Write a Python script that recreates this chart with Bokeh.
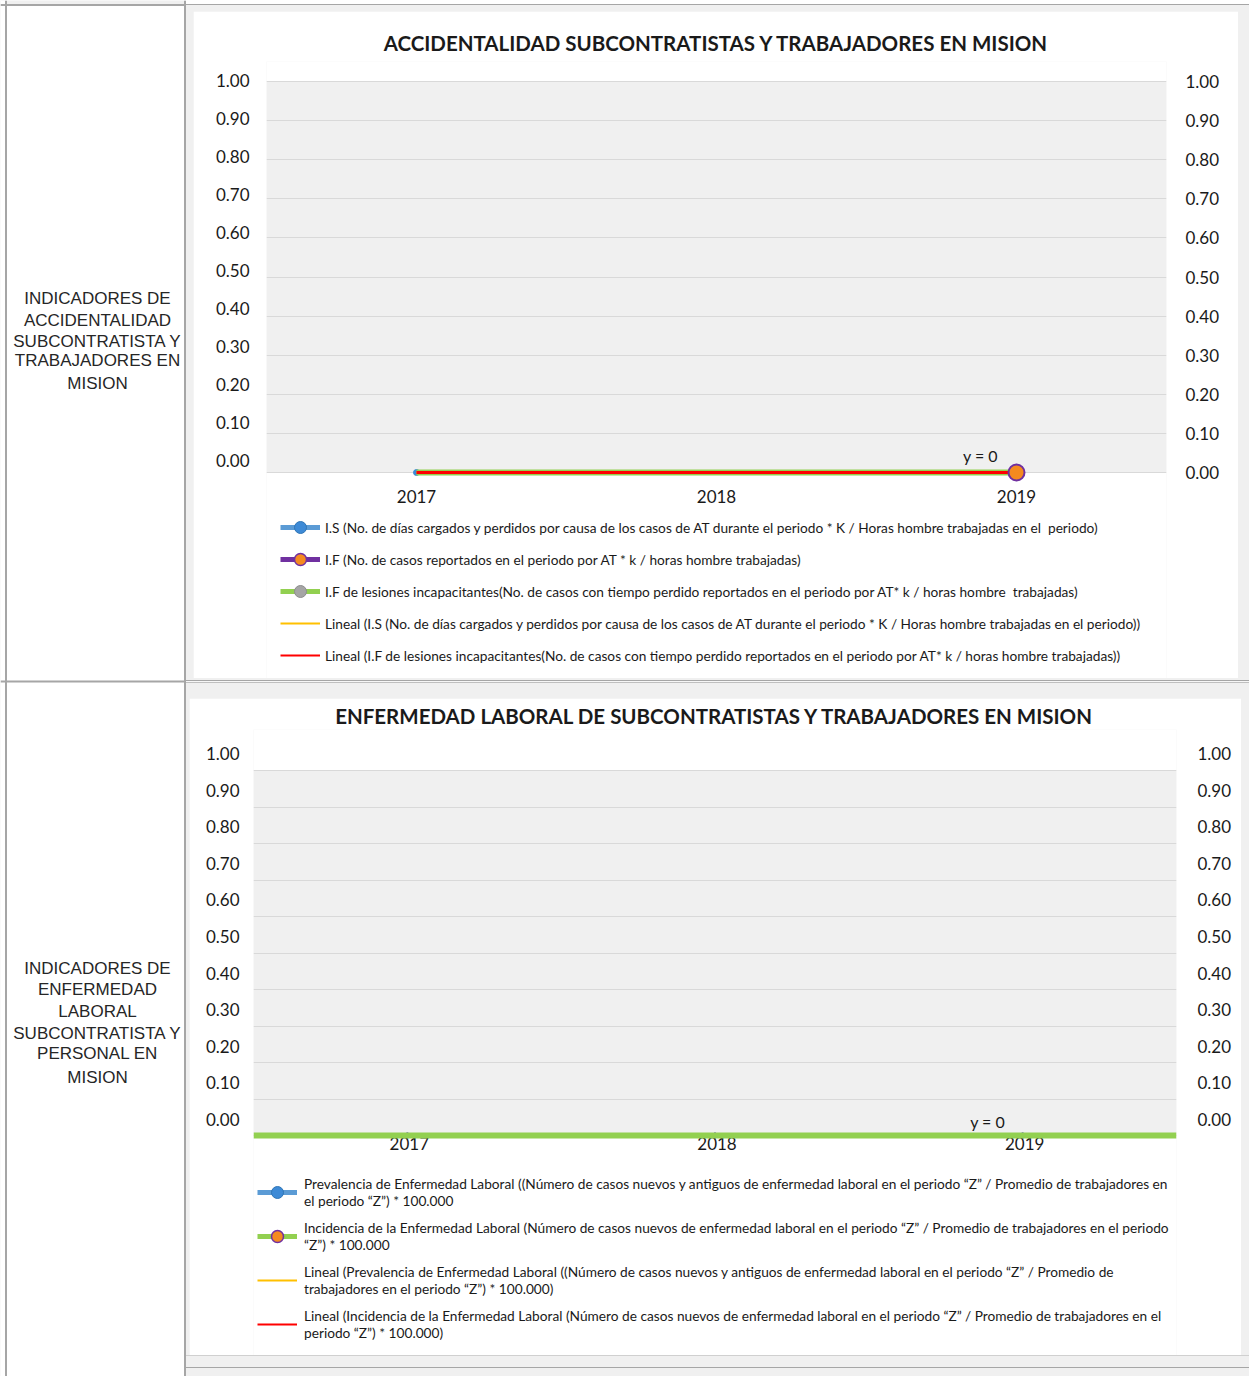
import numpy as np
from bokeh.plotting import figure
from bokeh.models import (Range1d, LinearAxis, FixedTicker, NumeralTickFormatter, Legend,
                          LegendItem, BoxAnnotation, Span, Label, ColumnDataSource, Spacer, Grid)
from bokeh.layouts import row, column
from bokeh.embed import file_html
from bokeh.resources import INLINE
from bokeh.core.properties import value

# ---------------- data ----------------
years = ["2017", "2018", "2019"]
tick_values = [0.0, 0.1, 0.2, 0.3, 0.4, 0.5, 0.6, 0.7, 0.8, 0.9, 1.0]

acc_title = "ACCIDENTALIDAD SUBCONTRATISTAS Y TRABAJADORES EN MISION"
acc_is = [0.0, np.nan, np.nan]        # I.S
acc_if = [np.nan, np.nan, 0.0]        # I.F
acc_if_les = [0.0, 0.0, 0.0]          # I.F lesiones incapacitantes
acc_labels = [
    "I.S (No. de días cargados y perdidos por causa de los casos de AT durante el periodo * K / Horas hombre trabajadas en el  periodo)",
    "I.F (No. de casos reportados en el periodo por AT * k / horas hombre trabajadas)",
    "I.F de lesiones incapacitantes(No. de casos con tiempo perdido reportados en el periodo por AT* k / horas hombre  trabajadas)",
    "Lineal (I.S (No. de días cargados y perdidos por causa de los casos de AT durante el periodo * K / Horas hombre trabajadas en el periodo))",
    "Lineal (I.F de lesiones incapacitantes(No. de casos con tiempo perdido reportados en el periodo por AT* k / horas hombre trabajadas))",
]

enf_title = "ENFERMEDAD LABORAL DE SUBCONTRATISTAS Y TRABAJADORES EN MISION"
enf_prev = [0.0, 0.0, 0.0]   # Prevalencia
enf_inc = [0.0, 0.0, 0.0]    # Incidencia
enf_labels = [
    "Prevalencia de Enfermedad Laboral ((Número de casos nuevos y antiguos de enfermedad laboral en el periodo “Z” / Promedio de trabajadores en\nel periodo “Z”) * 100.000",
    "Incidencia de la Enfermedad Laboral (Número de casos nuevos de enfermedad laboral en el periodo “Z” / Promedio de trabajadores en el periodo\n“Z”) * 100.000",
    "Lineal (Prevalencia de Enfermedad Laboral ((Número de casos nuevos y antiguos de enfermedad laboral en el periodo “Z” / Promedio de\ntrabajadores en el periodo “Z”) * 100.000)",
    "Lineal (Incidencia de la Enfermedad Laboral (Número de casos nuevos de enfermedad laboral en el periodo “Z” / Promedio de trabajadores en el\nperiodo “Z”) * 100.000)",
]

row_label_1 = ["INDICADORES DE", "ACCIDENTALIDAD", "SUBCONTRATISTA Y", "TRABAJADORES EN", "MISION"]
row_label_2 = ["INDICADORES DE", "ENFERMEDAD", "LABORAL", "SUBCONTRATISTA Y", "PERSONAL EN", "MISION"]


def linear_trend(vals):
    v = np.asarray(vals, dtype=float)
    idx = np.arange(len(v))
    ok = np.isfinite(v)
    if ok.sum() >= 2:
        m, b = np.polyfit(idx[ok], v[ok], 1)
    else:
        m, b = 0.0, (float(v[ok].mean()) if ok.any() else 0.0)
    return list(m * idx + b), m, b


def eq_text(m, b):
    if abs(m) < 1e-12 and abs(b) < 1e-12:
        return "y = 0"
    return f"y = {m:.4f}x + {b:.4f}"


# ---------------- styles ----------------
FONT = "Lato"
GRAY_BG = "#f0f0f0"
GRID = "#d9d9d9"
BLUE = "#5b9bd5"
BLUE_M = "#3d8ad6"
PURPLE = "#7030a0"
ORANGE = "#f58a1f"
GREEN = "#92d050"
GRAYM = "#a5a5a5"
YELLOW = "#ffc000"
RED = "#ff0000"
TXT = "#1a1a1a"
LINE = "#a6a6a6"
NO_VALUES = [np.nan] * len(years)   # legend-key renderers draw nothing in the plot


def style_axis(ax, standoff):
    ax.major_tick_out = 0
    ax.major_tick_in = 0
    ax.minor_tick_out = 0
    ax.minor_tick_in = 0
    ax.axis_line_color = None
    ax.major_label_standoff = standoff
    ax.major_label_text_font = FONT
    ax.major_label_text_font_size = "17px"
    ax.major_label_text_color = TXT


def style_title(p, standoff):
    p.title.align = "center"
    p.title.text_font = FONT
    p.title.text_font_size = "20.5px"
    p.title.text_font_style = "bold"
    p.title.text_color = TXT
    p.title.standoff = standoff


def style_legend(leg):
    leg.label_text_font = FONT
    leg.label_text_font_size = "13.7px"
    leg.label_text_color = TXT
    leg.border_line_color = None
    leg.background_fill_alpha = 0
    leg.margin = 0
    leg.padding = 0
    leg.glyph_width = 40


def year_labels(p, y_offset, x_offset=0):
    p.text(x=years, y=[0.0] * len(years), text=years, x_offset=x_offset, y_offset=y_offset,
           text_align="center", text_baseline="middle", text_font=value(FONT),
           text_font_size="17px", text_color=TXT)


def key_line(p, color, width):
    return p.line(x=years, y=NO_VALUES, line_color=color, line_width=width)


def key_marker(p, fill, line, lw=1.0):
    return p.scatter(x=years, y=NO_VALUES, size=12, fill_color=fill, line_color=line, line_width=lw)


# ---------------- chart 1 ----------------
tr_is, m_is, b_is = linear_trend(acc_is)
tr_les, m_les, b_les = linear_trend(acc_if_les)
src1 = ColumnDataSource(dict(year=years, is_=acc_is, if_=acc_if, les=acc_if_les,
                             tr_is=tr_is, tr_les=tr_les))

# frame: page y 61..678 ; gridline 1.00 at y=81, 0.00 at y=472
p1 = figure(x_range=years, y_range=Range1d(-206 / 391, 1 + 20 / 391), width=1045, height=667,
            output_backend="svg", toolbar_location=None, y_axis_location=None, x_axis_location=None,
            min_border_left=73, min_border_right=72, min_border_top=50, min_border_bottom=0,
            background_fill_color="white", border_fill_color="white", outline_line_color=None,
            title=acc_title)
p1.margin = (6, 11, 2, 7)
p1.frame_align = False
style_title(p1, 14)
p1.grid.visible = False
p1.extra_y_ranges = {"ax": Range1d(-218 / 380, 1 + 19 / 380)}

p1.add_layout(BoxAnnotation(bottom=0, top=1, fill_color=GRAY_BG, fill_alpha=1.0,
                            line_color=None, level="image"))
p1.add_layout(Grid(dimension=1, ticker=FixedTicker(ticks=tick_values),
                   grid_line_color=GRID, grid_line_width=1))

axl = LinearAxis(y_range_name="ax", ticker=FixedTicker(ticks=tick_values),
                 formatter=NumeralTickFormatter(format="0.00"))
style_axis(axl, 17)
p1.add_layout(axl, "left")
axr = LinearAxis(ticker=FixedTicker(ticks=tick_values), formatter=NumeralTickFormatter(format="0.00"))
style_axis(axr, 19)
p1.add_layout(axr, "right")
year_labels(p1, 24)

p1.line("year", "is_", source=src1, line_color=BLUE, line_width=4)
p1.scatter("year", "is_", source=src1, size=6, fill_color=BLUE_M, line_color=BLUE_M)
p1.line("year", "if_", source=src1, line_color=PURPLE, line_width=4)
p1.line("year", "les", source=src1, line_color=GREEN, line_width=6)
p1.line("year", "tr_is", source=src1, line_color=YELLOW, line_width=2)
p1.line("year", "tr_les", source=src1, line_color=RED, line_width=3)
p1.scatter("year", "if_", source=src1, size=16, fill_color=ORANGE, line_color=PURPLE, line_width=2)
p1.text(x=[years[-1]], y=[tr_les[-1]], text=[eq_text(m_les, b_les)], x_offset=-36, y_offset=-17,
        text_align="center", text_baseline="middle", text_font=value(FONT),
        text_font_size="16px", text_color=TXT)

l1a = key_line(p1, BLUE, 5)
l1b = key_marker(p1, BLUE_M, "#2e75b6")
l2a = key_line(p1, PURPLE, 5)
l2b = key_marker(p1, ORANGE, PURPLE, 1.5)
l3a = key_line(p1, GREEN, 5)
l3b = key_marker(p1, GRAYM, "#8c8c8c")
l4 = key_line(p1, YELLOW, 2)
l5 = key_line(p1, RED, 2)
leg1 = Legend(items=[LegendItem(label=acc_labels[0], renderers=[l1a, l1b]),
                     LegendItem(label=acc_labels[1], renderers=[l2a, l2b]),
                     LegendItem(label=acc_labels[2], renderers=[l3a, l3b]),
                     LegendItem(label=acc_labels[3], renderers=[l4]),
                     LegendItem(label=acc_labels[4], renderers=[l5])],
              location=(14, 8), orientation="vertical",
              glyph_height=30, label_height=20, label_standoff=5, spacing=2)
style_legend(leg1)
p1.add_layout(leg1)

# ---------------- chart 2 ----------------
tr_prev, m_prev, b_prev = linear_trend(enf_prev)
tr_inc, m_inc, b_inc = linear_trend(enf_inc)
src2 = ColumnDataSource(dict(year=years, prev=enf_prev, inc=enf_inc, tr_prev=tr_prev, tr_inc=tr_inc))

# frame: page y 729..1355 ; gridline 1.00 at y=770, 0.00 at y=1135
p2 = figure(x_range=years, y_range=Range1d(-220 / 365, 1 + 41 / 365), width=1052, height=657,
            output_backend="svg", toolbar_location=None, y_axis_location=None, x_axis_location=None,
            min_border_left=64, min_border_right=65, min_border_top=31, min_border_bottom=0,
            background_fill_color="white", border_fill_color="white", outline_line_color=None,
            title=enf_title)
p2.margin = (15, 8, 0, 3)
p2.frame_align = False
style_title(p2, 4)
p2.grid.visible = False
p2.extra_y_ranges = {"ax": Range1d(-236 / 366, 1 + 24 / 366)}

p2.add_layout(BoxAnnotation(bottom=0, top=1, fill_color=GRAY_BG, fill_alpha=1.0,
                            line_color=None, level="image"))
p2.add_layout(Grid(dimension=1, ticker=FixedTicker(ticks=tick_values),
                   grid_line_color=GRID, grid_line_width=1))

axl2 = LinearAxis(y_range_name="ax", ticker=FixedTicker(ticks=tick_values),
                  formatter=NumeralTickFormatter(format="0.00"))
style_axis(axl2, 14)
p2.add_layout(axl2, "left")
axr2 = LinearAxis(y_range_name="ax", ticker=FixedTicker(ticks=tick_values),
                  formatter=NumeralTickFormatter(format="0.00"))
style_axis(axr2, 21)
p2.add_layout(axr2, "right")

p2.line("year", "prev", source=src2, line_color=BLUE, line_width=4)
p2.scatter("year", "prev", source=src2, size=5, fill_color=BLUE_M, line_color=BLUE_M)
p2.line("year", "inc", source=src2, line_color=GREEN, line_width=4)
p2.line("year", "tr_prev", source=src2, line_color=YELLOW, line_width=2)
p2.line("year", "tr_inc", source=src2, line_color=RED, line_width=2)
p2.scatter("year", "inc", source=src2, size=5, fill_color=ORANGE, line_color=PURPLE)
# horizontal category axis line (green, thick) at zero
p2.add_layout(Span(location=0, dimension="width", line_color=GREEN, line_width=6))
year_labels(p2, 8, 2)
p2.text(x=[years[-1]], y=[tr_inc[-1]], text=[eq_text(m_inc, b_inc)], x_offset=-35, y_offset=-14,
        text_align="center", text_baseline="middle", text_font=value(FONT),
        text_font_size="16px", text_color=TXT)

k1a = key_line(p2, BLUE, 5)
k1b = key_marker(p2, BLUE_M, "#2e75b6")
k2a = key_line(p2, GREEN, 5)
k2b = key_marker(p2, ORANGE, PURPLE, 1.5)
k3 = key_line(p2, YELLOW, 2)
k4 = key_line(p2, RED, 2)
leg2 = Legend(items=[LegendItem(label=enf_labels[0], renderers=[k1a, k1b]),
                     LegendItem(label=enf_labels[1], renderers=[k2a, k2b]),
                     LegendItem(label=enf_labels[2], renderers=[k3]),
                     LegendItem(label=enf_labels[3], renderers=[k4])],
              location=(4, 14), orientation="vertical",
              glyph_height=30, label_standoff=7, spacing=10, label_text_line_height=1.3)
style_legend(leg2)
p2.add_layout(leg2)

# ---------------- left label column ----------------
pl = figure(width=186, height=1376, x_range=Range1d(0, 186), y_range=Range1d(1376, 0),
            output_backend="svg", toolbar_location=None, x_axis_location=None, y_axis_location=None,
            min_border=0, background_fill_color=GRAY_BG, border_fill_color=GRAY_BG,
            outline_line_color=None)
pl.grid.visible = False
pl.title.visible = False
pl.add_layout(BoxAnnotation(right=5, fill_color="white", fill_alpha=1, line_color=None))
pl.add_layout(BoxAnnotation(top=4, fill_color="white", fill_alpha=1, line_color=None))
pl.add_layout(Span(location=5.5, dimension="height", line_color=LINE, line_width=2))
pl.add_layout(Span(location=184.5, dimension="height", line_color=LINE, line_width=2))
pl.add_layout(Span(location=4.5, dimension="width", line_color=LINE, line_width=2))
pl.add_layout(Span(location=681, dimension="width", line_color=LINE, line_width=2))
for txt, yy in zip(row_label_1, [298, 320, 341, 360, 383]):
    pl.add_layout(Label(x=97, y=yy, text=txt, text_align="center", text_baseline="middle",
                        text_font="Liberation Sans", text_font_size="17px", text_color="#262626"))
for txt, yy in zip(row_label_2, [968, 989, 1011, 1033, 1053, 1077]):
    pl.add_layout(Label(x=97, y=yy, text=txt, text_align="center", text_baseline="middle",
                        text_font="Liberation Sans", text_font_size="17px", text_color="#262626"))

top_strip = Spacer(width=1063, height=5, styles={
    "background": "linear-gradient(to bottom, #ffffff 0px, #ffffff 4px, #a6a6a6 4px, #a6a6a6 5px)"})
sep = Spacer(width=1063, height=3, styles={
    "background": "linear-gradient(to bottom, #a6a6a6 0px, #a6a6a6 1px, #f7f7f7 1px, #f7f7f7 2px, #bfbfbf 2px, #bfbfbf 3px)"})
bottom = Spacer(width=1063, height=21, styles={
    "background": "linear-gradient(to bottom, #d0d0d0 0px, #d0d0d0 1px, #f0f0f0 1px, #f0f0f0 12px, #a6a6a6 12px, #a6a6a6 13px, #f0f0f0 13px)"})

right = column(top_strip, p1, sep, p2, bottom, styles={"background-color": GRAY_BG})
root = row(pl, right)

open("out.html", "w").write(file_html(root, INLINE))
